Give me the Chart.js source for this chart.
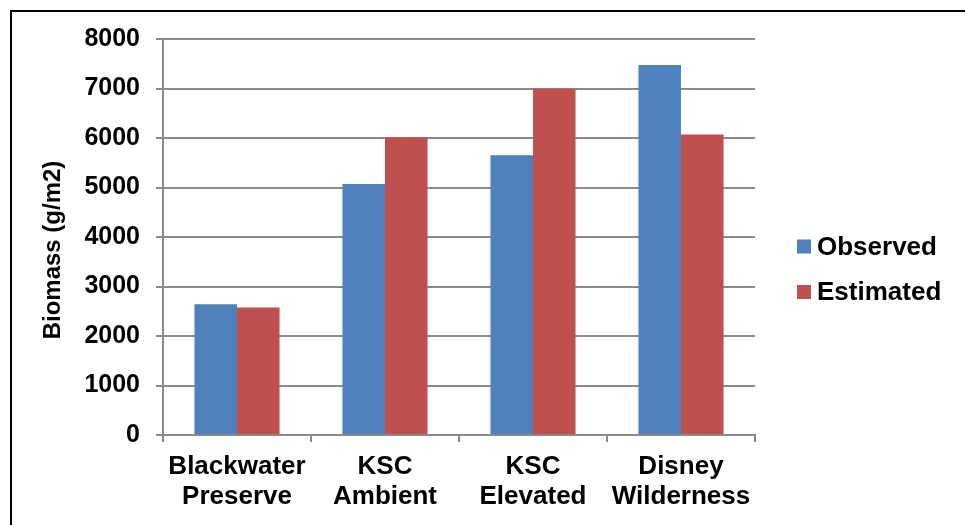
<!DOCTYPE html>
<html>
<head>
<meta charset="utf-8">
<script src="https://cdn.jsdelivr.net/npm/chart.js@4.4.1/dist/chart.umd.min.js"></script>
<style>
  html, body { margin: 0; padding: 0; background: #ffffff; }
  #wrap { width: 965px; height: 525px; position: relative; }
</style>
</head>
<body>
<div id="wrap"><canvas id="chart" width="965" height="525"></canvas></div>
<script>
// Sites (two-line category labels)
const sites = [
  ['Blackwater', 'Preserve'],
  ['KSC', 'Ambient'],
  ['KSC', 'Elevated'],
  ['Disney', 'Wilderness']
];
// Biomass in g/m2
const observed = [2640, 5070, 5650, 7475];
const estimated = [2575, 6015, 6995, 6070];
const seriesNames = ['Observed', 'Estimated'];
const yTicks = [0, 1000, 2000, 3000, 4000, 5000, 6000, 7000, 8000];
const yTitle = 'Biomass (g/m2)';

const BLUE = '#4F81BD';
const RED = '#C0504D';
const GRID = '#8a8a8a';
const FONT = '"Liberation Sans", Arial, sans-serif';

// Outer frame (top and left edges visible)
const framePlugin = {
  id: 'frame',
  beforeDraw(chart) {
    const ctx = chart.ctx;
    ctx.save();
    ctx.strokeStyle = '#000';
    ctx.lineWidth = 2;
    ctx.beginPath();
    ctx.moveTo(11, 540);
    ctx.lineTo(11, 11);
    ctx.lineTo(980, 11);
    ctx.stroke();
    ctx.restore();
  }
};

// Rotated y-axis title and the legend on the right
const annotatePlugin = {
  id: 'annotate',
  afterDraw(chart) {
    const ctx = chart.ctx;
    ctx.save();
    ctx.fillStyle = '#000';
    ctx.font = 'bold 24px ' + FONT;
    ctx.translate(60, 250);
    ctx.rotate(-Math.PI / 2);
    ctx.textAlign = 'center';
    ctx.textBaseline = 'alphabetic';
    ctx.fillText(yTitle, 0, 0);
    ctx.restore();

    ctx.save();
    ctx.font = 'bold 26px ' + FONT;
    ctx.textBaseline = 'middle';
    ctx.textAlign = 'left';
    chart.data.datasets.forEach((ds, i) => {
      const cy = 246.5 + i * 45.5;
      ctx.fillStyle = ds.backgroundColor;
      ctx.fillRect(797, cy - 7, 14, 14);
      ctx.fillStyle = '#000';
      ctx.fillText(ds.label, 817, cy + 1);
    });
    ctx.restore();
  }
};

new Chart(document.getElementById('chart'), {
  type: 'bar',
  data: {
    labels: sites,
    datasets: [
      { label: seriesNames[0], data: observed, backgroundColor: BLUE, borderWidth: 0 },
      { label: seriesNames[1], data: estimated, backgroundColor: RED, borderWidth: 0 }
    ]
  },
  options: {
    responsive: false,
    animation: false,
    devicePixelRatio: 1,
    layout: { padding: { left: 0, right: 210, top: 39, bottom: 0 } },
    datasets: {
      bar: { categoryPercentage: 0.575, barPercentage: 1.0 }
    },
    plugins: {
      legend: { display: false },
      tooltip: { enabled: false },
      title: { display: false }
    },
    scales: {
      x: {
        afterFit(scale) { scale.height = 90; },
        grid: {
          offset: true,
          drawOnChartArea: false,
          drawTicks: true,
          tickLength: 7,
          color: GRID,
          lineWidth: 2
        },
        border: { display: true, color: GRID, width: 2 },
        ticks: {
          color: '#000',
          font: { family: FONT, size: 26, weight: 'bold', lineHeight: 1.15 },
          padding: 10,
          maxRotation: 0,
          autoSkip: false
        }
      },
      y: {
        min: 0,
        max: 8000,
        afterFit(scale) { scale.width = 163; },
        afterBuildTicks(scale) { scale.ticks = yTicks.map(v => ({ value: v })); },
        grid: {
          drawOnChartArea: true,
          drawTicks: true,
          tickLength: 7,
          color: GRID,
          lineWidth: 2
        },
        border: { display: true, color: GRID, width: 2 },
        ticks: {
          color: '#000',
          font: { family: FONT, size: 25, weight: 'bold' },
          padding: 16,
          callback: (v) => String(v)
        }
      }
    }
  },
  plugins: [framePlugin, annotatePlugin]
});
</script>
</body>
</html>
